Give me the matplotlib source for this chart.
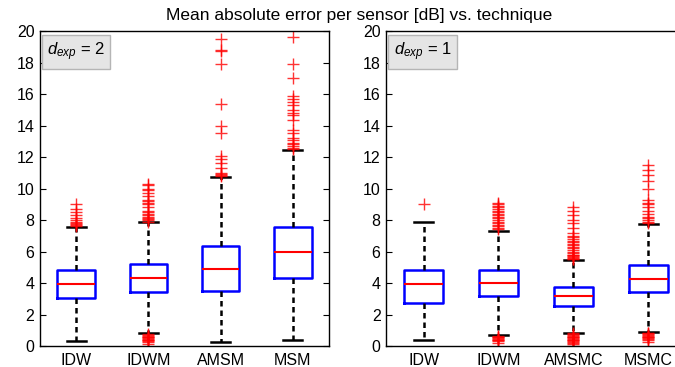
import matplotlib
matplotlib.use("Agg")
import matplotlib.pyplot as plt

plt.rcParams['font.family'] = ['Liberation Sans', 'DejaVu Sans']
plt.rcParams['mathtext.fontset'] = 'custom'
plt.rcParams['mathtext.it'] = 'Liberation Sans:italic'
plt.rcParams['mathtext.rm'] = 'Liberation Sans'

# d_exp = 2
labels_a = ["IDW", "IDWM", "AMSM", "MSM"]
q1_a = [3.03, 3.45, 3.49, 4.34]
med_a = [3.96, 4.34, 4.91, 5.97]
q3_a = [4.83, 5.20, 6.37, 7.58]
lo_a = [0.32, 0.80, 0.23, 0.40]
hi_a = [7.58, 7.85, 10.73, 12.42]
fliers_a = [
    [7.65, 7.7, 7.75, 7.8, 7.9, 8.0, 8.1, 8.3, 8.5, 8.7, 9.0],
    [7.9, 8.0, 8.05, 8.1, 8.2, 8.3, 8.4, 8.5, 8.6, 8.8, 9.0, 9.1, 9.2, 9.3,
     9.5, 9.7, 9.9, 10.0, 10.2, 10.3,
     0.15, 0.25, 0.3, 0.35, 0.4, 0.45, 0.5, 0.55, 0.6, 0.65, 0.7, 0.75],
    [10.8, 10.85, 10.9, 11.0, 11.3, 11.6, 11.9, 12.1, 13.5, 13.95, 15.4,
     17.9, 18.75, 18.8, 19.5],
    [12.5, 12.6, 12.7, 12.8, 12.9, 13.1, 13.2, 13.5, 13.7, 14.35, 14.7,
     14.8, 15.0, 15.3, 15.5, 15.7, 15.87, 17.0, 17.9, 19.6],
]

# d_exp = 1
labels_b = ["IDW", "IDWM", "AMSMC", "MSMC"]
q1_b = [2.73, 3.17, 2.56, 3.43]
med_b = [3.96, 4.02, 3.15, 4.25]
q3_b = [4.83, 4.83, 3.73, 5.12]
lo_b = [0.36, 0.70, 0.83, 0.90]
hi_b = [7.85, 7.30, 5.46, 7.72]
fliers_b = [
    [9.0],
    [7.4, 7.5, 7.6, 7.7, 7.8, 7.9, 8.0, 8.1, 8.2, 8.3, 8.4, 8.5, 8.6, 8.7,
     8.8, 8.9, 9.0, 9.1,
     0.2, 0.3, 0.35, 0.4, 0.45, 0.5, 0.55, 0.6, 0.65],
    [5.5, 5.55, 5.6, 5.65, 5.7, 5.75, 5.8, 5.9, 6.0, 6.1, 6.2, 6.3, 6.4,
     6.5, 6.6, 6.7, 6.8, 6.9, 7.0, 7.2, 7.5, 7.8, 8.0, 8.3, 8.6, 8.85,
     0.0, 0.1, 0.2, 0.25, 0.3, 0.35, 0.4, 0.45, 0.5, 0.55, 0.6, 0.65, 0.7, 0.75, 0.8],
    [7.8, 7.9, 8.0, 8.1, 8.2, 8.4, 8.6, 8.8, 9.0, 9.1, 9.27, 9.95, 10.5,
     10.86, 11.17, 11.5,
     0.25, 0.35, 0.45, 0.5, 0.55, 0.6, 0.65, 0.7, 0.75, 0.8, 0.85],
]

panels = [
    (labels_a, q1_a, med_a, q3_a, lo_a, hi_a, fliers_a, "2"),
    (labels_b, q1_b, med_b, q3_b, lo_b, hi_b, fliers_b, "1"),
]

fig = plt.figure(figsize=(6.75, 3.67), dpi=100)
axes = [fig.add_axes([0.0593, 0.0572, 0.428, 0.858]),
        fig.add_axes([0.572, 0.0572, 0.444, 0.858])]

for ax, (labels, q1, med, q3, lo, hi, fl, dexp) in zip(axes, panels):
    stats = []
    for i in range(len(labels)):
        stats.append(dict(label=labels[i], q1=q1[i], med=med[i], q3=q3[i],
                          whislo=lo[i], whishi=hi[i], fliers=fl[i]))
    ax.bxp(stats, widths=0.52, showfliers=True,
           boxprops=dict(color='#0000ff', linewidth=1.8),
           medianprops=dict(color='#ff0000', linewidth=1.5),
           whiskerprops=dict(color='black', linewidth=1.8, linestyle=(0, (2.2, 1.6))),
           capprops=dict(color='black', linewidth=1.8),
           capwidths=0.26,
           flierprops=dict(marker='+', markeredgecolor='#ff0000', markersize=8,
                           markeredgewidth=1.0, alpha=0.8))
    ax.set_xlim(0.5, 4.5)
    ax.set_ylim(0, 20)
    ax.set_yticks(range(0, 21, 2))
    ax.tick_params(axis='y', direction='in', right=True, length=4, labelsize=11.5, pad=4)
    ax.tick_params(axis='x', length=0, labelsize=11.5, pad=5)
    for s in ax.spines.values():
        s.set_linewidth(1.0)
    ax.text(0.025, 0.97, r"$d_{exp}$ = " + dexp, transform=ax.transAxes,
            fontsize=12, va='top', ha='left',
            bbox=dict(boxstyle='square,pad=0.32', facecolor='#e5e5e5',
                      edgecolor='#b5b5b5', linewidth=1.0))

fig.text(0.532, 0.958, "Mean absolute error per sensor [dB] vs. technique",
         ha='center', va='center', fontsize=12.5)

fig.savefig("out.png", dpi=100)
